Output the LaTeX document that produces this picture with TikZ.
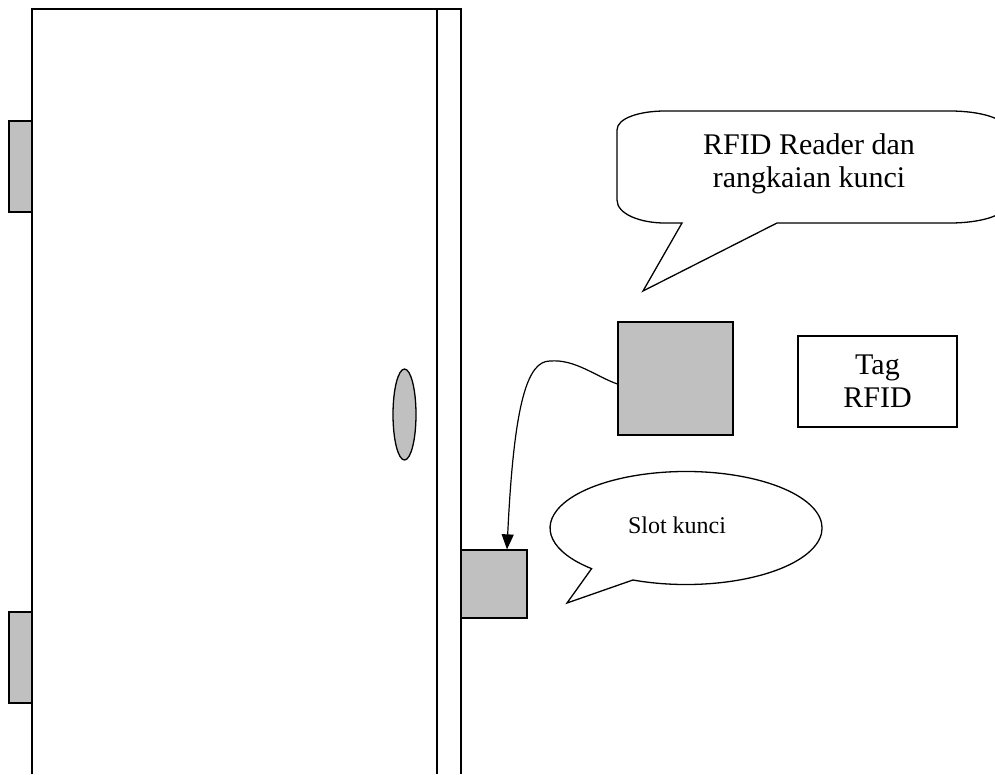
\documentclass[tikz,border=0pt]{standalone}
\usepackage{fontspec}
\setmainfont{Liberation Serif}
\usetikzlibrary{arrows.meta,shapes.geometric}
\definecolor{partgray}{HTML}{C0C0C0}
\begin{document}
\begin{tikzpicture}[x=1pt,y=-1pt,
  outline/.style={draw=black,line width=1.3pt},
  part/.style={outline,fill=partgray,inner sep=0pt},
  bigtext/.style={font=\fontsize{30}{33}\selectfont,align=center,inner sep=0pt},
  smalltext/.style={font=\fontsize{24}{28}\selectfont,inner sep=0pt},
  wire/.style={draw=black,line width=1.2pt,-{Triangle[length=15pt,width=12pt]}}]
\useasboundingbox (0,0) rectangle (995,774);

% door leaf and frame
\draw[outline] (32,774) -- (32,9) -- (461,9) -- (461,774);
\draw[outline] (437,9) -- (437,774);

% hinges
\node[part,minimum width=23pt,minimum height=91pt] (hingetop) at (20.5,166.5) {};
\node[part,minimum width=23pt,minimum height=91pt] (hingebottom) at (20.5,657.5) {};

% door handle
\node[part,ellipse,minimum width=23pt,minimum height=91pt] (handle) at (404.5,414.5) {};

% reader unit, lock slot and tag
\node[part,minimum width=115pt,minimum height=113pt] (reader) at (675.5,378.5) {};
\node[part,minimum width=66pt,minimum height=68pt] (slot) at (494,584) {};
\node[outline,bigtext,minimum width=159pt,minimum height=91pt] (tag) at (877.5,381.5) {Tag\\RFID};

% cable from the reader to the lock slot
\draw[wire] ([yshift=-5.5pt]reader.west) .. controls (595,376) and (575,359) .. (550,361)
  .. controls (528,361) and (514,400) .. ([xshift=13pt]slot.north);

% callout of the reader
\draw[outline,fill=white] (617,130) .. controls (617,118) and (640,111) .. (665,111)
  -- (950,111) .. controls (980.4,111) and (1005,118.6) .. (1005,128)
  -- (1005,206) .. controls (1005,215.4) and (980.4,223) .. (950,223)
  -- (777,223) -- (643,291) -- (682,223) -- (665,223)
  .. controls (640,223) and (617,214) .. (617,200) -- cycle;
\node[bigtext] (readerlabel) at (809,164) {RFID Reader dan\\rangkaian kunci};

% callout of the lock slot
\draw[outline,fill=white] (632.9,580) arc[start angle=113,end angle=-226,x radius=136,y radius=56.5]
  -- (567,603) -- cycle;
\node[smalltext] (slotlabel) at (677,525) {Slot kunci};
\end{tikzpicture}
\end{document}
